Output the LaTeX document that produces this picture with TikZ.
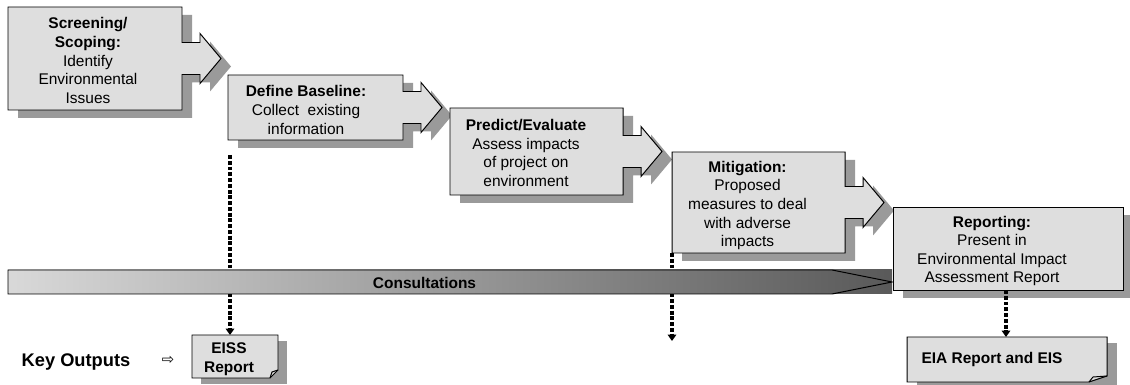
\documentclass[tikz,border=0pt]{standalone}
\usepackage{fontspec}
\setmainfont{Liberation Sans}
\newfontfamily\symfont{DejaVu Sans}
\usepackage{tikz}
\usetikzlibrary{arrows.meta}
\definecolor{boxfill}{HTML}{DEDEDE}
\definecolor{shadowgray}{HTML}{9A9A9A}
% left, top, right, bottom of a stage box with its arrow head
\newcommand{\stagepath}[4]{(#1,#2) -- (#3,#2) -- (#3,{(#2+#4)/2-16}) -- ({#3+18},{(#2+#4)/2-16}) -- ({#3+18},{(#2+#4)/2-25}) -- ({#3+39},{(#2+#4)/2}) -- ({#3+18},{(#2+#4)/2+25}) -- ({#3+18},{(#2+#4)/2+16}) -- (#3,{(#2+#4)/2+16}) -- (#3,#4) -- (#1,#4) -- cycle}
\begin{document}
\begin{tikzpicture}[x=0.025cm,y=-0.025cm]
\tikzstyle{every node}=[font=\fontsize{11}{13.2}\selectfont]
\tikzstyle{stagebox}=[draw=black,line width=0.7pt,fill=boxfill]
\tikzstyle{shade}=[fill=shadowgray]
\tikzstyle{stagetext}=[align=center,inner sep=0pt]
\tikzstyle{outflow}=[line width=2.7pt,dash pattern=on 2.8pt off 1.3pt,-{Triangle[width=6pt,length=4.5pt]}]
\useasboundingbox (0,0) rectangle (1130,385);

% shadows
\fill[shade,shift={(10,8)}] \stagepath{8}{7}{182}{110};
\fill[shade,shift={(10,8)}] \stagepath{228}{75}{403}{140};
\fill[shade,shift={(10,8)}] \stagepath{450}{108}{623}{195};
\fill[shade,shift={(10,8)}] \stagepath{672}{152}{845}{253};
\fill[shade] (903,215) rectangle (1133,298);
\fill[shade] (201,341) rectangle (287,384);
\fill[shade] (917,343) rectangle (1117,388);

% stages
\draw[stagebox] \stagepath{8}{7}{182}{110};
\draw[stagebox] \stagepath{228}{75}{403}{140};
\draw[stagebox] \stagepath{450}{108}{623}{195};
\draw[stagebox] \stagepath{672}{152}{845}{253};
\node[stagetext] (s1) at (88,60.5) {\textbf{Screening/}\\\textbf{Scoping:}\\Identify\\Environmental\\Issues};
\node[stagetext] (s2) at (306,110) {\textbf{Define Baseline:}\\Collect~ existing\\information};
\node[stagetext] (s3) at (526,153) {\textbf{Predict/Evaluate}\\Assess impacts\\of project on\\environment};
\node[stagetext] (s4) at (747.5,205.5) {\textbf{Mitigation:}\\Proposed\\measures to deal\\with adverse\\impacts};

% key outputs
\coordinate (b2) at (230,155);
\coordinate (o1) at (230,335);
\coordinate (b4) at (672,253);
\coordinate (o2) at (672,341);
\coordinate (b5) at (1006,290);
\coordinate (o3) at (1006,337);
\draw[outflow] (b2) -- (o1);
\draw[outflow] (b4) -- (o2);

% consultations
\shade[left color=black!15,middle color=black!28,right color=black!65] (8,270) rectangle (892,294);
\draw[line width=0.7pt] (892,282) -- (832,270) -- (8,270) -- (8,294) -- (832,294) -- cycle;
\node (cons) at (424.5,283) {\textbf{Consultations}};

\draw[stagebox] (893,207) rectangle (1123,290);
\node[stagetext] (s5) at (992,251) {\textbf{Reporting:}\\Present in\\Environmental Impact\\Assessment Report};
\draw[outflow] (b5) -- (o3);

\draw[stagebox] (192,335) -- (278,335) -- (278,370) -- (270,378) -- (192,378) -- cycle;
\draw[line width=0.7pt] (270,378) -- (272,372) -- (278,370);
\node[stagetext] (eiss) at (229,359) {\textbf{EISS}\\\textbf{Report}};

\draw[stagebox] (907,337) -- (1107,337) -- (1107,376) -- (1089,382) -- (907,382) -- cycle;
\draw[line width=0.7pt] (1089,382) -- (1093,377) -- (1107,376);
\node[stagetext] (eia) at (992,360) {\textbf{EIA Report and EIS}};

\node (key) at (76,362) {\fontsize{13}{15}\selectfont\textbf{Key Outputs}};
\node (keyarrow) at (168,360) {\symfont\fontsize{10.5}{10.5}\selectfont ⇨};
\end{tikzpicture}
\end{document}
